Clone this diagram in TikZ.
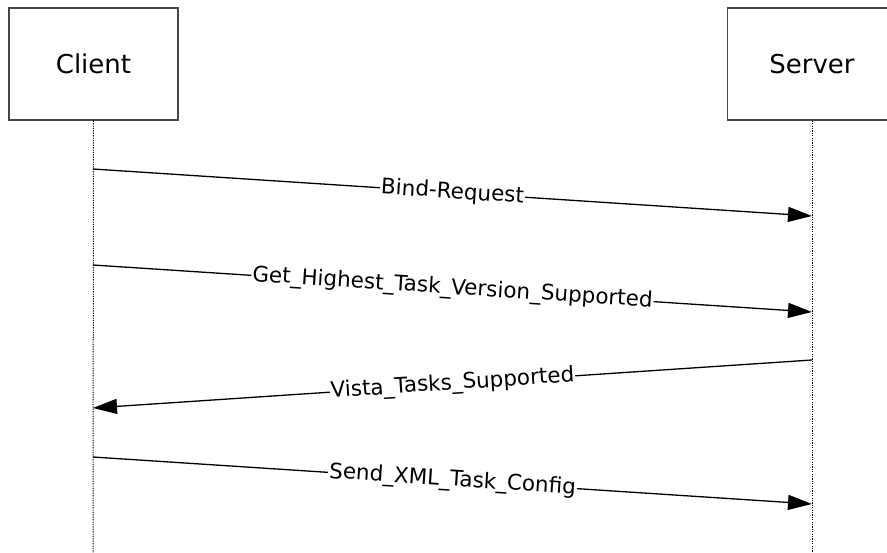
\documentclass[tikz,border=0pt]{standalone}
\usepackage{fontspec}
\setmainfont{DejaVu Sans}
\usetikzlibrary{arrows.meta}
\definecolor{bx}{RGB}{70, 70, 70}

\begin{document}
\begin{tikzpicture}[
  actor/.style={rectangle, draw=bx, line width=1.5pt, minimum width=169pt, minimum height=112pt, inner sep=0pt, font=\fontsize{26}{30}\selectfont},
  life/.style={line width=1pt, dash pattern=on 1.2pt off 1.2pt},
  msg/.style={line width=1.3pt, -{Triangle[length=24pt, width=15pt]}},
  lbl/.style={fill=white, inner sep=1pt, sloped, font=\fontsize{21.5}{24}\selectfont}]
\clip (0pt, 0pt) rectangle (887pt, -553pt);
\useasboundingbox (0pt, 0pt) rectangle (887pt, -553pt);
\node (client) [actor] at (93.5pt, -64.0pt) {Client};
\node (server) [actor] at (812.0pt, -64.0pt) {Server};
\coordinate (cend) at (93.0pt, -553.0pt);
\coordinate (send) at (812.0pt, -553.0pt);
\draw [life] (client.south) to (cend);
\draw [life] (server.south) to (send);
\coordinate (c1) at (93.0pt, -169.0pt);
\coordinate (s1) at (812.0pt, -216.0pt);
\coordinate (c2) at (93.0pt, -265.0pt);
\coordinate (s2) at (812.0pt, -312.0pt);
\coordinate (s3) at (812.0pt, -360.0pt);
\coordinate (c3) at (93.0pt, -408.0pt);
\coordinate (c4) at (93.0pt, -457.0pt);
\coordinate (s4) at (812.0pt, -504.0pt);
\draw [msg] (c1) to node [lbl] {Bind-Request} (s1);
\draw [msg] (c2) to node [lbl] {Get\_Highest\_Task\_Version\_Supported} (s2);
\draw [msg] (s3) to node [lbl] {Vista\_Tasks\_Supported} (c3);
\draw [msg] (c4) to node [lbl] {Send\_XML\_Task\_Config} (s4);
\end{tikzpicture}
\end{document}
